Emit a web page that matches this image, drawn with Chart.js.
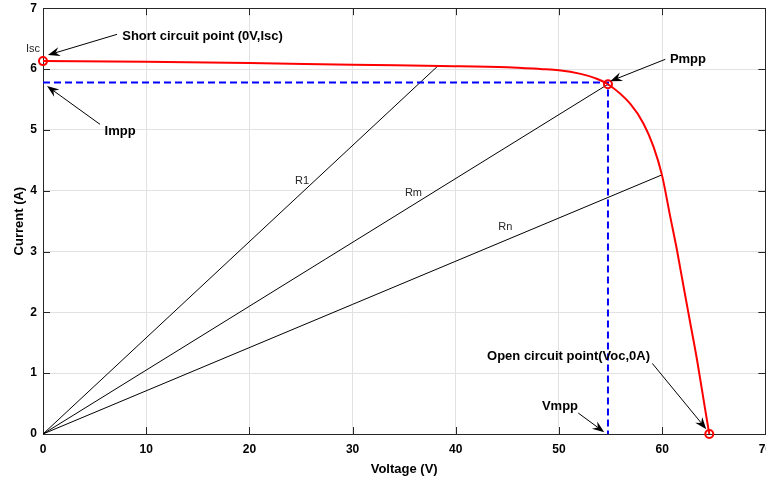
<!DOCTYPE html>
<html>
<head>
<meta charset="utf-8">
<script src="https://cdn.jsdelivr.net/npm/chart.js@4.4.1/dist/chart.umd.min.js"></script>
<style>
html,body{margin:0;padding:0;background:#fff;overflow:hidden;}
#wrap{width:780px;height:482px;margin-top:-5px;}
</style>
</head>
<body>
<div id="wrap"><canvas id="c" width="780" height="482"></canvas></div>
<script>
// ---- data ----
const voltage = [0, 10, 20, 30, 38.5, 45, 48.2, 50, 52.1, 53.5, 54.75, 56.9, 58.2, 59.17, 59.98, 60.79, 61.44, 62.08, 62.73, 63.38, 64.02, 64.4, 64.57];
const current = [6.13, 6.12, 6.10, 6.07, 6.05, 6.03, 6.00, 5.98, 5.92, 5.85, 5.75, 5.43, 5.10, 4.72, 4.26, 3.57, 3.02, 2.42, 1.82, 1.22, 0.56, 0.17, 0];
const Isc = 6.13, Voc = 64.57;
const Vmpp = 54.75, Impp = 5.78, Pmpp_I = 5.75;
const loadLineNames = ["R1", "Rm", "Rn"];
const loadLineEndV = [38.2, 54.75, 59.98];
const loadLineEndI = [6.04, 5.75, 4.26];
const loadLabelV = [25.1, 35.9, 44.8];
const loadLabelI = [4.16, 3.96, 3.41];
const xTicks = [0, 10, 20, 30, 40, 50, 60, 70];
const yTicks = [0, 1, 2, 3, 4, 5, 6, 7];
// annotations: text, text position, arrow start, arrow tip (data units)
const noteText = ["Short circuit point (0V,Isc)", "Impp", "Pmpp", "Open circuit point(Voc,0A)", "Vmpp"];
const noteAt   = [[15.46, 6.54], [7.47, 4.98], [62.5, 6.16], [50.93, 1.27], [50.1, 0.45]];
const arrowFrom = [[7.17, 6.57], [5.53, 5.09], [60.31, 6.16], [59.05, 1.16], [51.87, 0.345]];
const arrowTip  = [[0.48, 6.23], [0.39, 5.72], [54.97, 5.80], [64.28, 0.08], [54.39, 0.03]];

const curve = voltage.map((v, i) => ({x: v, y: current[i]}));
const loadSets = loadLineNames.map((n, i) => ({
  label: n, data: [{x: 0, y: 0}, {x: loadLineEndV[i], y: loadLineEndI[i]}],
  showLine: true, borderColor: '#000', borderWidth: 1, pointRadius: 0, order: 3
}));

const framePlugin = {
  id: 'frame',
  beforeDatasetsDraw(chart) {
    const {ctx, chartArea: a, scales: {x, y}} = chart;
    ctx.save();
    ctx.strokeStyle = '#262626';
    ctx.lineWidth = 1;
    ctx.beginPath();
    const L = 7;
    xTicks.forEach(t => {
      const px = Math.round(x.getPixelForValue(t)) + 0.5;
      ctx.moveTo(px, a.bottom); ctx.lineTo(px, a.bottom - L);
      ctx.moveTo(px, a.top); ctx.lineTo(px, a.top + L);
    });
    yTicks.forEach(t => {
      const py = Math.round(y.getPixelForValue(t)) + 0.5;
      ctx.moveTo(a.left, py); ctx.lineTo(a.left + L, py);
      ctx.moveTo(a.right, py); ctx.lineTo(a.right - L, py);
    });
    ctx.stroke();
    ctx.strokeRect(Math.round(a.left) + 0.5, Math.round(a.top) + 0.5, Math.round(a.right - a.left), Math.round(a.bottom - a.top));
    ctx.restore();
  },
  afterDatasetsDraw(chart) {
    const {ctx, scales: {x, y}} = chart;
    ctx.save();
    // load line labels
    ctx.font = '11px "Liberation Sans", Arial, sans-serif';
    ctx.fillStyle = '#262626';
    ctx.textAlign = 'center'; ctx.textBaseline = 'middle';
    loadLineNames.forEach((n, i) => ctx.fillText(n, x.getPixelForValue(loadLabelV[i]), y.getPixelForValue(loadLabelI[i])));
    ctx.fillText('Isc', x.getPixelForValue(-0.97), y.getPixelForValue(6.33));
    // bold notes
    ctx.font = 'bold 13px "Liberation Sans", Arial, sans-serif';
    ctx.fillStyle = '#000';
    noteText.forEach((t, i) => ctx.fillText(t, x.getPixelForValue(noteAt[i][0]), y.getPixelForValue(noteAt[i][1])));
    // arrows
    ctx.strokeStyle = '#000'; ctx.lineWidth = 1;
    arrowFrom.forEach((f, i) => {
      const x0 = x.getPixelForValue(f[0]), y0 = y.getPixelForValue(f[1]);
      const x1 = x.getPixelForValue(arrowTip[i][0]), y1 = y.getPixelForValue(arrowTip[i][1]);
      const ang = Math.atan2(y1 - y0, x1 - x0);
      const len = 12, half = 4.5, notch = 8;
      ctx.beginPath(); ctx.moveTo(x0, y0);
      ctx.lineTo(x1 - Math.cos(ang) * notch, y1 - Math.sin(ang) * notch); ctx.stroke();
      const bx = x1 - Math.cos(ang) * len, by = y1 - Math.sin(ang) * len;
      const nx = -Math.sin(ang), ny = Math.cos(ang);
      ctx.beginPath();
      ctx.moveTo(x1, y1);
      ctx.lineTo(bx + nx * half, by + ny * half);
      ctx.lineTo(x1 - Math.cos(ang) * notch, y1 - Math.sin(ang) * notch);
      ctx.lineTo(bx - nx * half, by - ny * half);
      ctx.closePath();
      ctx.fillStyle = '#000'; ctx.fill();
    });
    ctx.restore();
  }
};

new Chart(document.getElementById('c'), {
  type: 'scatter',
  data: {
    datasets: [
      {label: 'I-V', data: curve, showLine: true, borderColor: '#ff0000', borderWidth: 2, pointRadius: 0,
       cubicInterpolationMode: 'monotone', clip: false, order: 1},
      ...loadSets,
      {label: 'mpp', data: [{x: 0, y: Impp}, {x: Vmpp, y: Impp}, {x: Vmpp, y: 0}], showLine: true,
       borderColor: '#0000ff', borderWidth: 2, borderDash: [7, 4], pointRadius: 0, order: 2},
      {label: 'points', data: [{x: 0, y: Isc}, {x: Vmpp, y: Pmpp_I}, {x: Voc, y: 0}], showLine: false,
       pointRadius: 4, pointBorderWidth: 2, pointBorderColor: '#ff0000', pointBackgroundColor: 'rgba(0,0,0,0)',
       clip: false, order: 0}
    ]
  },
  options: {
    responsive: false,
    animation: false,
    layout: {padding: {left: 0, top: 0, right: 0, bottom: 0}},
    plugins: {legend: {display: false}, tooltip: {enabled: false}},
    scales: {
      x: {
        type: 'linear', min: 0, max: 70,
        afterBuildTicks: s => { s.ticks = xTicks.map(v => ({value: v})); },
        afterFit: s => { s.height = 43; },
        grid: {color: '#e2e2e2', drawTicks: false},
        border: {display: false},
        ticks: {color: '#000', padding: 8, maxRotation: 0, font: {family: '"Liberation Sans", Arial, sans-serif', size: 12, weight: 'bold'}},
        title: {display: true, text: 'Voltage (V)', color: '#000', padding: {top: 4, bottom: 0},
                font: {family: '"Liberation Sans", Arial, sans-serif', size: 13, weight: 'bold'}}
      },
      y: {
        type: 'linear', min: 0, max: 7,
        afterBuildTicks: s => { s.ticks = yTicks.map(v => ({value: v})); },
        afterFit: s => { s.width = 43; },
        grid: {color: '#e2e2e2', drawTicks: false},
        border: {display: false},
        ticks: {color: '#000', padding: 6, font: {family: '"Liberation Sans", Arial, sans-serif', size: 12, weight: 'bold'}},
        title: {display: true, text: 'Current (A)', color: '#000', padding: {top: 12, bottom: 0},
                font: {family: '"Liberation Sans", Arial, sans-serif', size: 13, weight: 'bold'}}
      }
    }
  },
  plugins: [framePlugin]
});
</script>
</body>
</html>
